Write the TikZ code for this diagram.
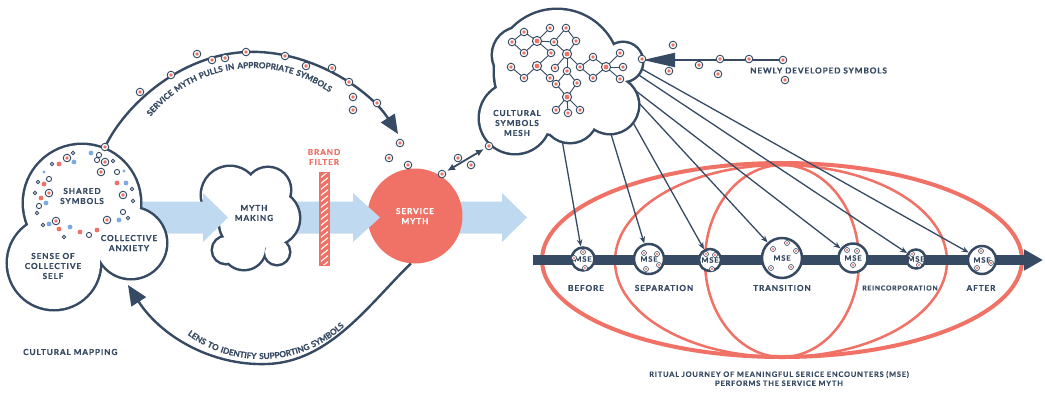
\documentclass[tikz,border=0pt]{standalone}
\usepackage{fontspec}
\setmainfont{Lato}
\newfontfamily\lab{Lato}[LetterSpace=11, BoldFeatures={FakeBold=0.6}]
\usetikzlibrary{arrows.meta,decorations.text}
\definecolor{navy}{RGB}{54,74,99}
\definecolor{coral}{RGB}{240,113,101}
\definecolor{skyband}{RGB}{191,217,240}
\definecolor{dotblue}{RGB}{125,170,225}

% a symbol: white disc, navy ring, coral core
\newcommand\symT[1]{\filldraw[fill=white,draw=navy,line width=0.9] (#1) circle[radius=3.8]; \fill[coral] (#1) circle[radius=1.9];}
\newcommand\symTB[1]{\filldraw[fill=white,draw=navy,line width=1] (#1) circle[radius=4.6]; \fill[coral] (#1) circle[radius=2.4];}
\newcommand\symTS[1]{\filldraw[fill=white,draw=navy,line width=0.6] (#1) circle[radius=2.5]; \fill[coral] (#1) circle[radius=1.2];}
% union of circles drawn with one outer outline
\newcommand\cloudblob[1]{%
  \foreach \cx/\cy/\cr in {#1} {\draw[navy,line width=5] (\cx,\cy) circle[radius=\cr];}
  \foreach \cx/\cy/\cr in {#1} {\fill[white] (\cx,\cy) circle[radius=\cr];}}

\begin{document}
\begin{tikzpicture}[x=1pt,y=-1pt,
  lbl/.style={font=\lab\bfseries\fontsize{8.2}{10}\selectfont, text=navy, align=center, inner sep=0},
  lblsmall/.style={lbl, font=\lab\bfseries\fontsize{6.8}{9}\selectfont},
  arcline/.style={navy, line width=2.4},
  conn/.style={navy, line width=1.3, -{Stealth[length=7pt,width=5.5pt]}},
  mse/.style={circle, draw=navy, line width=2.5, fill=white, inner sep=0,
    font=\lab\bfseries\fontsize{7.5}{8}\selectfont, text=navy},
  alongtext/.style={decorate, decoration={text along path, text align=center, text color=navy,
    text={|\lab\bfseries\fontsize{8.2}{8}\selectfont|#1}}}
]
\useasboundingbox (0,0) rectangle (1045,392);
\fill[white] (0,0) rectangle (1045,392);

% ---------- ritual journey ----------
\draw[coral,line width=4] (782,260) ellipse[x radius=240,y radius=97];
\draw[coral,line width=2.5] (781,261) ellipse[x radius=166,y radius=96];
\draw[coral,line width=2.5] (782,261) ellipse[x radius=77,y radius=96];

\coordinate (jS) at (533,260);
\coordinate (jE) at (1043,260);
\draw[navy,line width=10,-{Triangle[length=19pt,width=20pt]}] (jS) -- (jE);

\node[mse,minimum size=23] (m1) at (583,259) {MSE};
\node[mse,minimum size=30] (m2) at (649,259) {MSE};
\node[mse,minimum size=22] (m3) at (710,260) {MSE};
\node[mse,minimum size=40] (m4) at (782,258) {MSE};
\node[mse,minimum size=29] (m5) at (853,258) {MSE};
\node[mse,minimum size=19] (m6) at (916,259) {MSE};
\node[mse,minimum size=28] (m7) at (982,260) {MSE};

\foreach \p in {{583,252},{574,258},{585,268},
                {644,253},{657,254},{659,265},{646,269},
                {706,254},{715,255},{712,269},
                {773,249},{787,243},{796,251},{771,268},{791,267},
                {847,250},{857,251},{853,265},
                {912,254},{919,265},
                {981,251},{991,263},{977,268}} {\symTS{\p}}

\node[lbl] (lb1) at (586,288) {BEFORE};
\node[lbl] (lb2) at (664,288) {SEPARATION};
\node[lbl] (lb4) at (782,288) {TRANSITION};
\node[lblsmall] (lb6) at (900,288) {REINCORPORATION};
\node[lbl] (lb7) at (981,288) {AFTER};

\node[lbl, font=\lab\bfseries\fontsize{7.4}{9}\selectfont] (caption) at (779,378.5) {RITUAL JOURNEY OF MEANINGFUL SERICE ENCOUNTERS (MSE)\\PERFORMS THE SERVICE MYTH};

% ---------- cultural symbols mesh ----------
\cloudblob{557/72/62, 520/55/27, 515/118/35, 623/62/19, 610/105/28, 570/115/27}

\foreach \n/\p in {1/{524,32},2/{512,42},3/{524,53},4/{537,41},5/{550,28},6/{554,42},
  7/{566,28},8/{576,41},9/{551,53},10/{567,54},11/{537,66},12/{511,67},13/{524,78},
  14/{550,78},15/{555,68},16/{567,71},17/{556,84},18/{577,83},19/{567,97},20/{556,110},
  21/{568,113},22/{580,110},23/{580,67},24/{593,57},25/{593,78},26/{606,67},27/{620,53},
  28/{623,67},29/{620,79}} {\coordinate (n\n) at (\p);}
\foreach \a/\b in {2/1,1/4,4/3,3/2,4/5,4/6,6/7,7/8,8/10,6/10,4/9,9/11,12/13,13/11,11/14,
  10/15,10/16,10/23,16/17,16/18,17/19,18/19,14/17,19/20,19/21,19/22,23/24,24/26,26/25,25/23,
  26/27,26/28,26/29} {\draw[navy,line width=0.9] (n\a) -- (n\b);}
\foreach \n in {1,2,3,5,6,7,8,9,12,13,14,15,16,17,18,20,21,22,23,24,25,27,28,29} {\symT{n\n}}
\foreach \n in {4,10,11,19,26} {\symTB{n\n}}

\node[lbl] (meshlbl) at (517,123) {CULTURAL\\SYMBOLS\\MESH};

% mesh feeding every encounter
\coordinate (c1) at (562.5,142.5);
\coordinate (c2) at (611,134);
\coordinate (c3) at (633,122.5);
\coordinate (c4) at (639,103);
\coordinate (c5) at (636,91);
\coordinate (c6) at (638,74.5);
\coordinate (c7) at (641,68.5);
\foreach \i in {1,...,7} {\draw[conn] (c\i) -- (m\i);}

% newly developed symbols
\coordinate (nS) at (783,60);
\coordinate (nE) at (643,60);
\draw[navy,line width=2.2,-{Triangle[length=32pt,width=14pt]}] (nS) -- (nE);
\foreach \p in {{673,45},{669,71},{699,65},{720,59},{718,74},{749,59},{783,60},{785,80},{642,59}} {\symT{\p}}
\node[lbl,anchor=west] (newlbl) at (750,70.5) {NEWLY DEVELOPED SYMBOLS};

% ---------- service myth and flow ----------
\fill[skyband] (415,201.5) -- (502,201.5) -- (502,193) -- (527,217.5) -- (502,242) -- (502,233.5) -- (415,233.5) -- cycle;
\node[circle,fill=coral,minimum size=95,inner sep=0,lbl,text=white] (sm) at (415,216) {SERVICE\\MYTH};
\fill[skyband] (285,201.5) -- (353,201.5) -- (353,193) -- (380,217.5) -- (353,242) -- (353,233.5) -- (285,233.5) -- cycle;

% brand filter
\node[fill=coral,minimum width=11,minimum height=94,inner sep=0] (bf) at (324.5,219) {};
\begin{scope}
  \clip ([xshift=2pt,yshift=-2pt]bf.north west) rectangle ([xshift=-2pt,yshift=2pt]bf.south east);
  \foreach \k in {0,...,17} {\draw[white,line width=1.1] (319,179+6*\k) -- (330,170+6*\k);}
\end{scope}
\node[lbl,text=coral] (bflbl) at (324,157) {BRAND\\FILTER};

% myth making
\cloudblob{230/195/28, 268/190/22, 272/218/27, 277/252/12, 244/248/21, 226/250/13, 250/222/30}
\node[lbl] (mythlbl) at (254,213) {MYTH\\MAKING};
\fill[skyband] (130,201.5) -- (203,201.5) -- (203,193) -- (228,217.5) -- (203,242) -- (203,233.5) -- (130,233.5) -- cycle;

% ---------- cultural mapping ----------
\cloudblob{82/203/58, 54/263/46, 131/243/35}
\foreach \p in {{59,164},{44,184},{117,183},{41,198},{59,229},{80,232},{97,230}} {\fill[coral] (\p) circle[radius=2.4];}
\foreach \p in {{74,162},{91,153},{126,183},{46,203},{119,220},{49,224},{70,227}} {\fill[dotblue] (\p) circle[radius=2.4];}
\foreach \p in {{44,172},{124,171}} {\fill[dotblue] (\p) circle[radius=1.6];}
\foreach \p in {{99,155},{97,160},{117,172},{49,179},{39,206},{123,212},{89,235}} {\draw[navy,line width=0.9] (\p) circle[radius=2.6];}
\foreach \p in {{73,153},{52,164},{113,161},{38,182},{132,189},{35,193},{133,201},{37,213},{128,218},{43,225},{64,237}} {\draw[navy,line width=0.8] (\p) circle[radius=1.7];}
\foreach \p in {{67,158},{105,162},{101,172},{49,193},{123,195},{107,220},{56,221}} {\symT{\p}}

\node[lbl] (shared) at (82,196) {SHARED\\SYMBOLS};
\node[lbl] (anx) at (129,243) {COLLECTIVE\\ANXIETY};
\node[lbl] (self) at (53,266) {SENSE OF\\COLLECTIVE\\SELF};
\node[lbl,anchor=west] (mapping) at (23,352) {CULTURAL MAPPING};

% ---------- symbol loops ----------
\coordinate (a1s) at (105,147);
\coordinate (a1e) at (398,134);
\draw[arcline,-{Triangle[length=19pt,width=16pt]}] (a1s) .. controls (125,105) and (180,55) .. (246,52)
  .. controls (310,49) and (370,90) .. (a1e);
\path[alongtext={SERVICE MYTH PULLS IN APPROPRIATE SYMBOLS}] (253,200) ++(-160:132) arc[start angle=-160,end angle=-35.4,radius=132];

\coordinate (a2e) at (128,285);
\draw[arcline,-{Triangle[length=20pt,width=17pt]}] (sm.265) .. controls (370,303) and (330,362) .. (267,364)
  .. controls (210,366) and (160,335) .. (a2e);
\path[alongtext={LENS TO IDENTIFY SUPPORTING SYMBOLS}] (261,236) ++(145:123) arc[start angle=145,end angle=29,radius=123];

% exchange between the myth and the mesh
\coordinate (dA) at (447,171);
\coordinate (dB) at (484,149);
\draw[navy,line width=1.8,{Latex[length=8pt,width=7pt]}-{Latex[length=8pt,width=7pt]}] (dA) -- (dB);

\foreach \p in {{105,147},{140,92},{171,75},{197,54},{212,60},{225,58},{246,52},{285,56},{306,66},
  {332,68},{349,82},{353,97},{353,110},{377,103},{400,143},{389,158},{408,165},
  {442,174},{458,158},{471,165},{489,146}} {\symT{\p}}
\end{tikzpicture}
\end{document}
